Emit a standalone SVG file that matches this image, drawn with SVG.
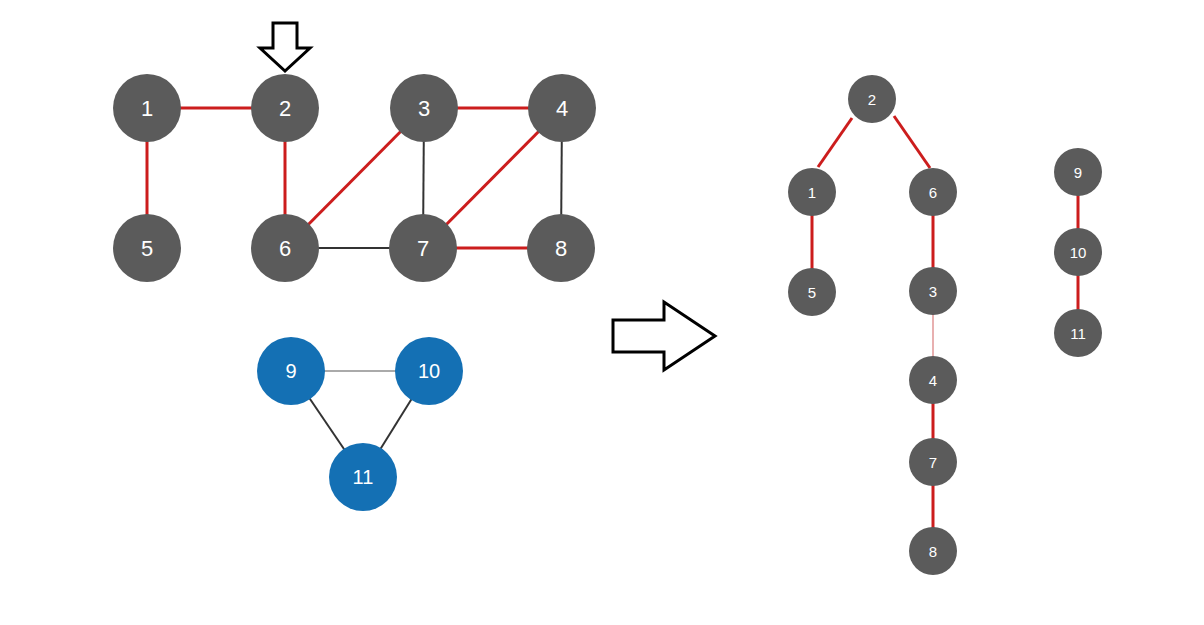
<svg xmlns="http://www.w3.org/2000/svg" width="1204" height="625" viewBox="0 0 1204 625">
<style>
.g{fill:#5b5b5b}.b{fill:#1470b4}
text{font-family:"Liberation Sans",Arial,sans-serif;fill:#fff;text-anchor:middle;dominant-baseline:central}
.big{font-size:22px}.sm{font-size:15px}
.r{stroke:#cc1d1d;stroke-width:3}.k{stroke:#333;stroke-width:2}.l{stroke:#aaa;stroke-width:2}
.arr{fill:#fff;stroke:#000;stroke-width:3}
</style>
<rect width="1204" height="625" fill="#fff"/>
<g id="connectors">
<line class="r" x1="147" y1="108" x2="285" y2="108"/>
<line class="r" x1="147" y1="108" x2="147" y2="248"/>
<line class="r" x1="285" y1="108" x2="285" y2="248"/>
<line class="r" x1="285" y1="248" x2="424" y2="108"/>
<line class="r" x1="424" y1="108" x2="562" y2="108"/>
<line class="r" x1="562" y1="108" x2="423" y2="248"/>
<line class="r" x1="423" y1="248" x2="561" y2="248"/>
<line class="k" x1="424" y1="108" x2="423" y2="248"/>
<line class="k" x1="562" y1="108" x2="561" y2="248"/>
<line class="k" x1="285" y1="248" x2="423" y2="248"/>
<line class="l" x1="291" y1="371" x2="429" y2="371"/>
<line class="k" x1="291" y1="371" x2="363" y2="477"/>
<line class="k" x1="429" y1="371" x2="363" y2="477"/>
<line class="r" x1="852" y1="118" x2="818" y2="167"/>
<line class="r" x1="894" y1="116" x2="930" y2="168"/>
<line class="r" x1="812" y1="192" x2="812" y2="292"/>
<line class="r" x1="933" y1="192" x2="933" y2="291"/>
<line stroke="#e8b0b0" stroke-width="2" x1="933" y1="291" x2="933" y2="380"/>
<line class="r" x1="933" y1="380" x2="933" y2="462"/>
<line class="r" x1="933" y1="462" x2="933" y2="551"/>
<line class="r" x1="1078" y1="172" x2="1078" y2="252"/>
<line class="r" x1="1078" y1="252" x2="1078" y2="333"/>
</g>
<g id="arrow-down"><polygon class="arr" points="273,23 297,23 297,48 310,48 285,71 260,48 273,48"/></g>
<g id="arrow-right"><polygon class="arr" points="613,320 664,320 664,302 715,336 664,370 664,352 613,352"/></g>
<g id="n1"><circle class="g" cx="147" cy="108" r="34"/><text class="big" x="147" y="108">1</text></g>
<g id="n2"><circle class="g" cx="285" cy="108" r="34"/><text class="big" x="285" y="108">2</text></g>
<g id="n3"><circle class="g" cx="424" cy="108" r="34"/><text class="big" x="424" y="108">3</text></g>
<g id="n4"><circle class="g" cx="562" cy="108" r="34"/><text class="big" x="562" y="108">4</text></g>
<g id="n5"><circle class="g" cx="147" cy="248" r="34"/><text class="big" x="147" y="248">5</text></g>
<g id="n6"><circle class="g" cx="285" cy="248" r="34"/><text class="big" x="285" y="248">6</text></g>
<g id="n7"><circle class="g" cx="423" cy="248" r="34"/><text class="big" x="423" y="248">7</text></g>
<g id="n8"><circle class="g" cx="561" cy="248" r="34"/><text class="big" x="561" y="248">8</text></g>
<g id="n9"><circle class="b" cx="291" cy="371" r="34"/><text class="big" x="291" y="371" style="font-size:20px">9</text></g>
<g id="n10"><circle class="b" cx="429" cy="371" r="34"/><text class="big" x="429" y="371" style="font-size:20px">10</text></g>
<g id="n11"><circle class="b" cx="363" cy="477" r="34"/><text class="big" x="363" y="477" style="font-size:20px">11</text></g>
<g id="t2"><circle class="g" cx="872" cy="99" r="24"/><text class="sm" x="872" y="99">2</text></g>
<g id="t1"><circle class="g" cx="812" cy="192" r="24"/><text class="sm" x="812" y="192">1</text></g>
<g id="t6"><circle class="g" cx="933" cy="192" r="24"/><text class="sm" x="933" y="192">6</text></g>
<g id="t5"><circle class="g" cx="812" cy="292" r="24"/><text class="sm" x="812" y="292">5</text></g>
<g id="t3"><circle class="g" cx="933" cy="291" r="24"/><text class="sm" x="933" y="291">3</text></g>
<g id="t4"><circle class="g" cx="933" cy="380" r="24"/><text class="sm" x="933" y="380">4</text></g>
<g id="t7"><circle class="g" cx="933" cy="462" r="24"/><text class="sm" x="933" y="462">7</text></g>
<g id="t8"><circle class="g" cx="933" cy="551" r="24"/><text class="sm" x="933" y="551">8</text></g>
<g id="t9"><circle class="g" cx="1078" cy="172" r="24"/><text class="sm" x="1078" y="172">9</text></g>
<g id="t10"><circle class="g" cx="1078" cy="252" r="24"/><text class="sm" x="1078" y="252">10</text></g>
<g id="t11"><circle class="g" cx="1078" cy="333" r="24"/><text class="sm" x="1078" y="333">11</text></g>
</svg>
